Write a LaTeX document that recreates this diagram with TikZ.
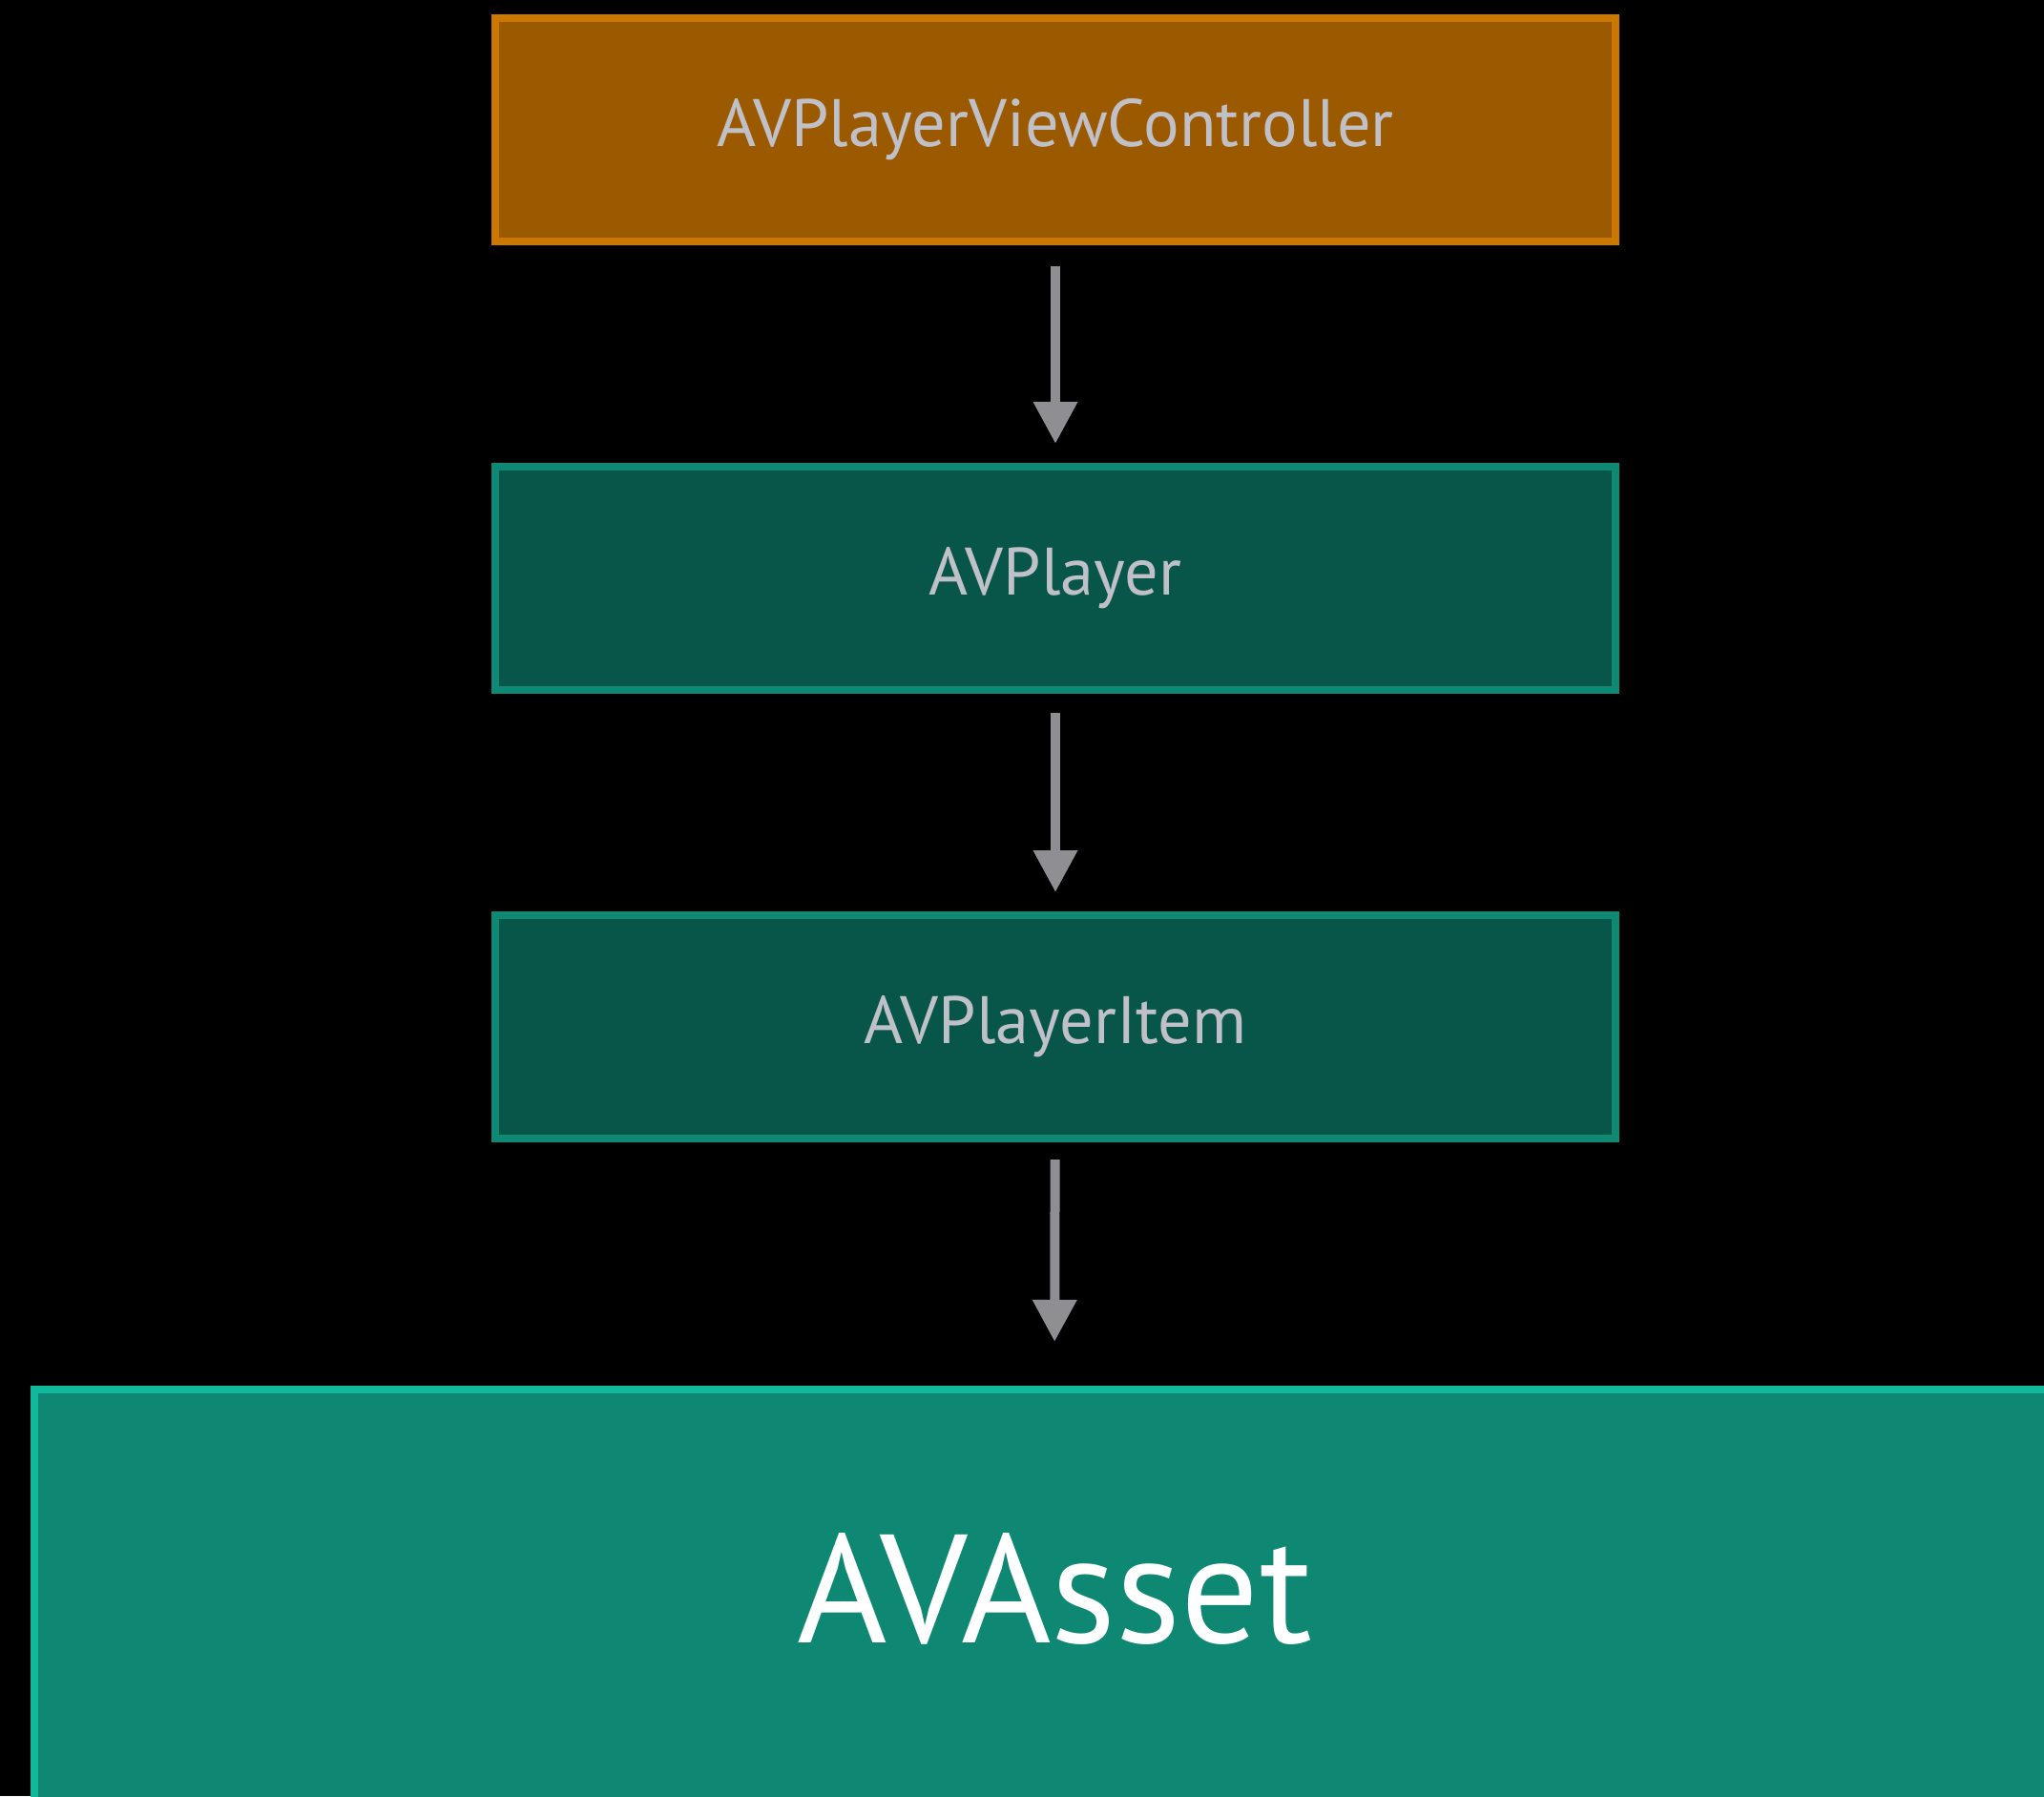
\documentclass[tikz,border=0pt]{standalone}
\usepackage{fontspec}
\setmainfont{PT Sans}
\usepackage{tikz}
\usetikzlibrary{arrows.meta,positioning}
\definecolor{vcfill}{HTML}{9B5A00}
\definecolor{vcline}{HTML}{CC7700}
\definecolor{avfill}{HTML}{08564A}
\definecolor{avline}{HTML}{0E8A74}
\definecolor{assetfill}{HTML}{0E8872}
\definecolor{assetline}{HTML}{12B89C}
\definecolor{flowgray}{HTML}{8E8E93}
\definecolor{labelgray}{HTML}{C0C0C8}
\tikzset{
    ctrlbox/.style={draw=vcline, fill=vcfill, line width=0.08cm, minimum width=11.74cm, minimum height=2.34cm, inner sep=0pt, text=labelgray, font=\fontsize{20}{24}\selectfont},
    objbox/.style={ctrlbox, draw=avline, fill=avfill},
    assetbox/.style={draw=assetline, fill=assetfill, line width=0.08cm, minimum width=21.38cm, inner sep=0pt, text height=2.65cm, text depth=3cm, text=white, font=\fontsize{46}{52}\selectfont},
    flow/.style={-{Triangle[length=0.44cm, width=0.44cm]}, line width=0.1cm, flowgray}
}

\begin{document}
\begin{tikzpicture}[node distance=2.28cm]
\fill[black] (0,0) rectangle (21.42,-18.82);
\useasboundingbox (0,0) rectangle (21.42,-18.82);
\node[ctrlbox] (vc) at (11.06,-1.36) {AVPlayerViewController};
\node[objbox, below=of vc] (player) {AVPlayer};
\node[objbox, below=of player] (item) {AVPlayerItem};
\node[assetbox, anchor=base] (asset) at (11.05,-17.21) {AVAsset};

\draw[flow, shorten <=0.22cm, shorten >=0.2cm] (vc) -- (player);
\draw[flow, shorten <=0.2cm, shorten >=0.2cm] (player) -- (item);
\draw[flow, shorten <=0.18cm, shorten >=0.46cm] (item) -- (asset.north);
\end{tikzpicture}
\end{document}
